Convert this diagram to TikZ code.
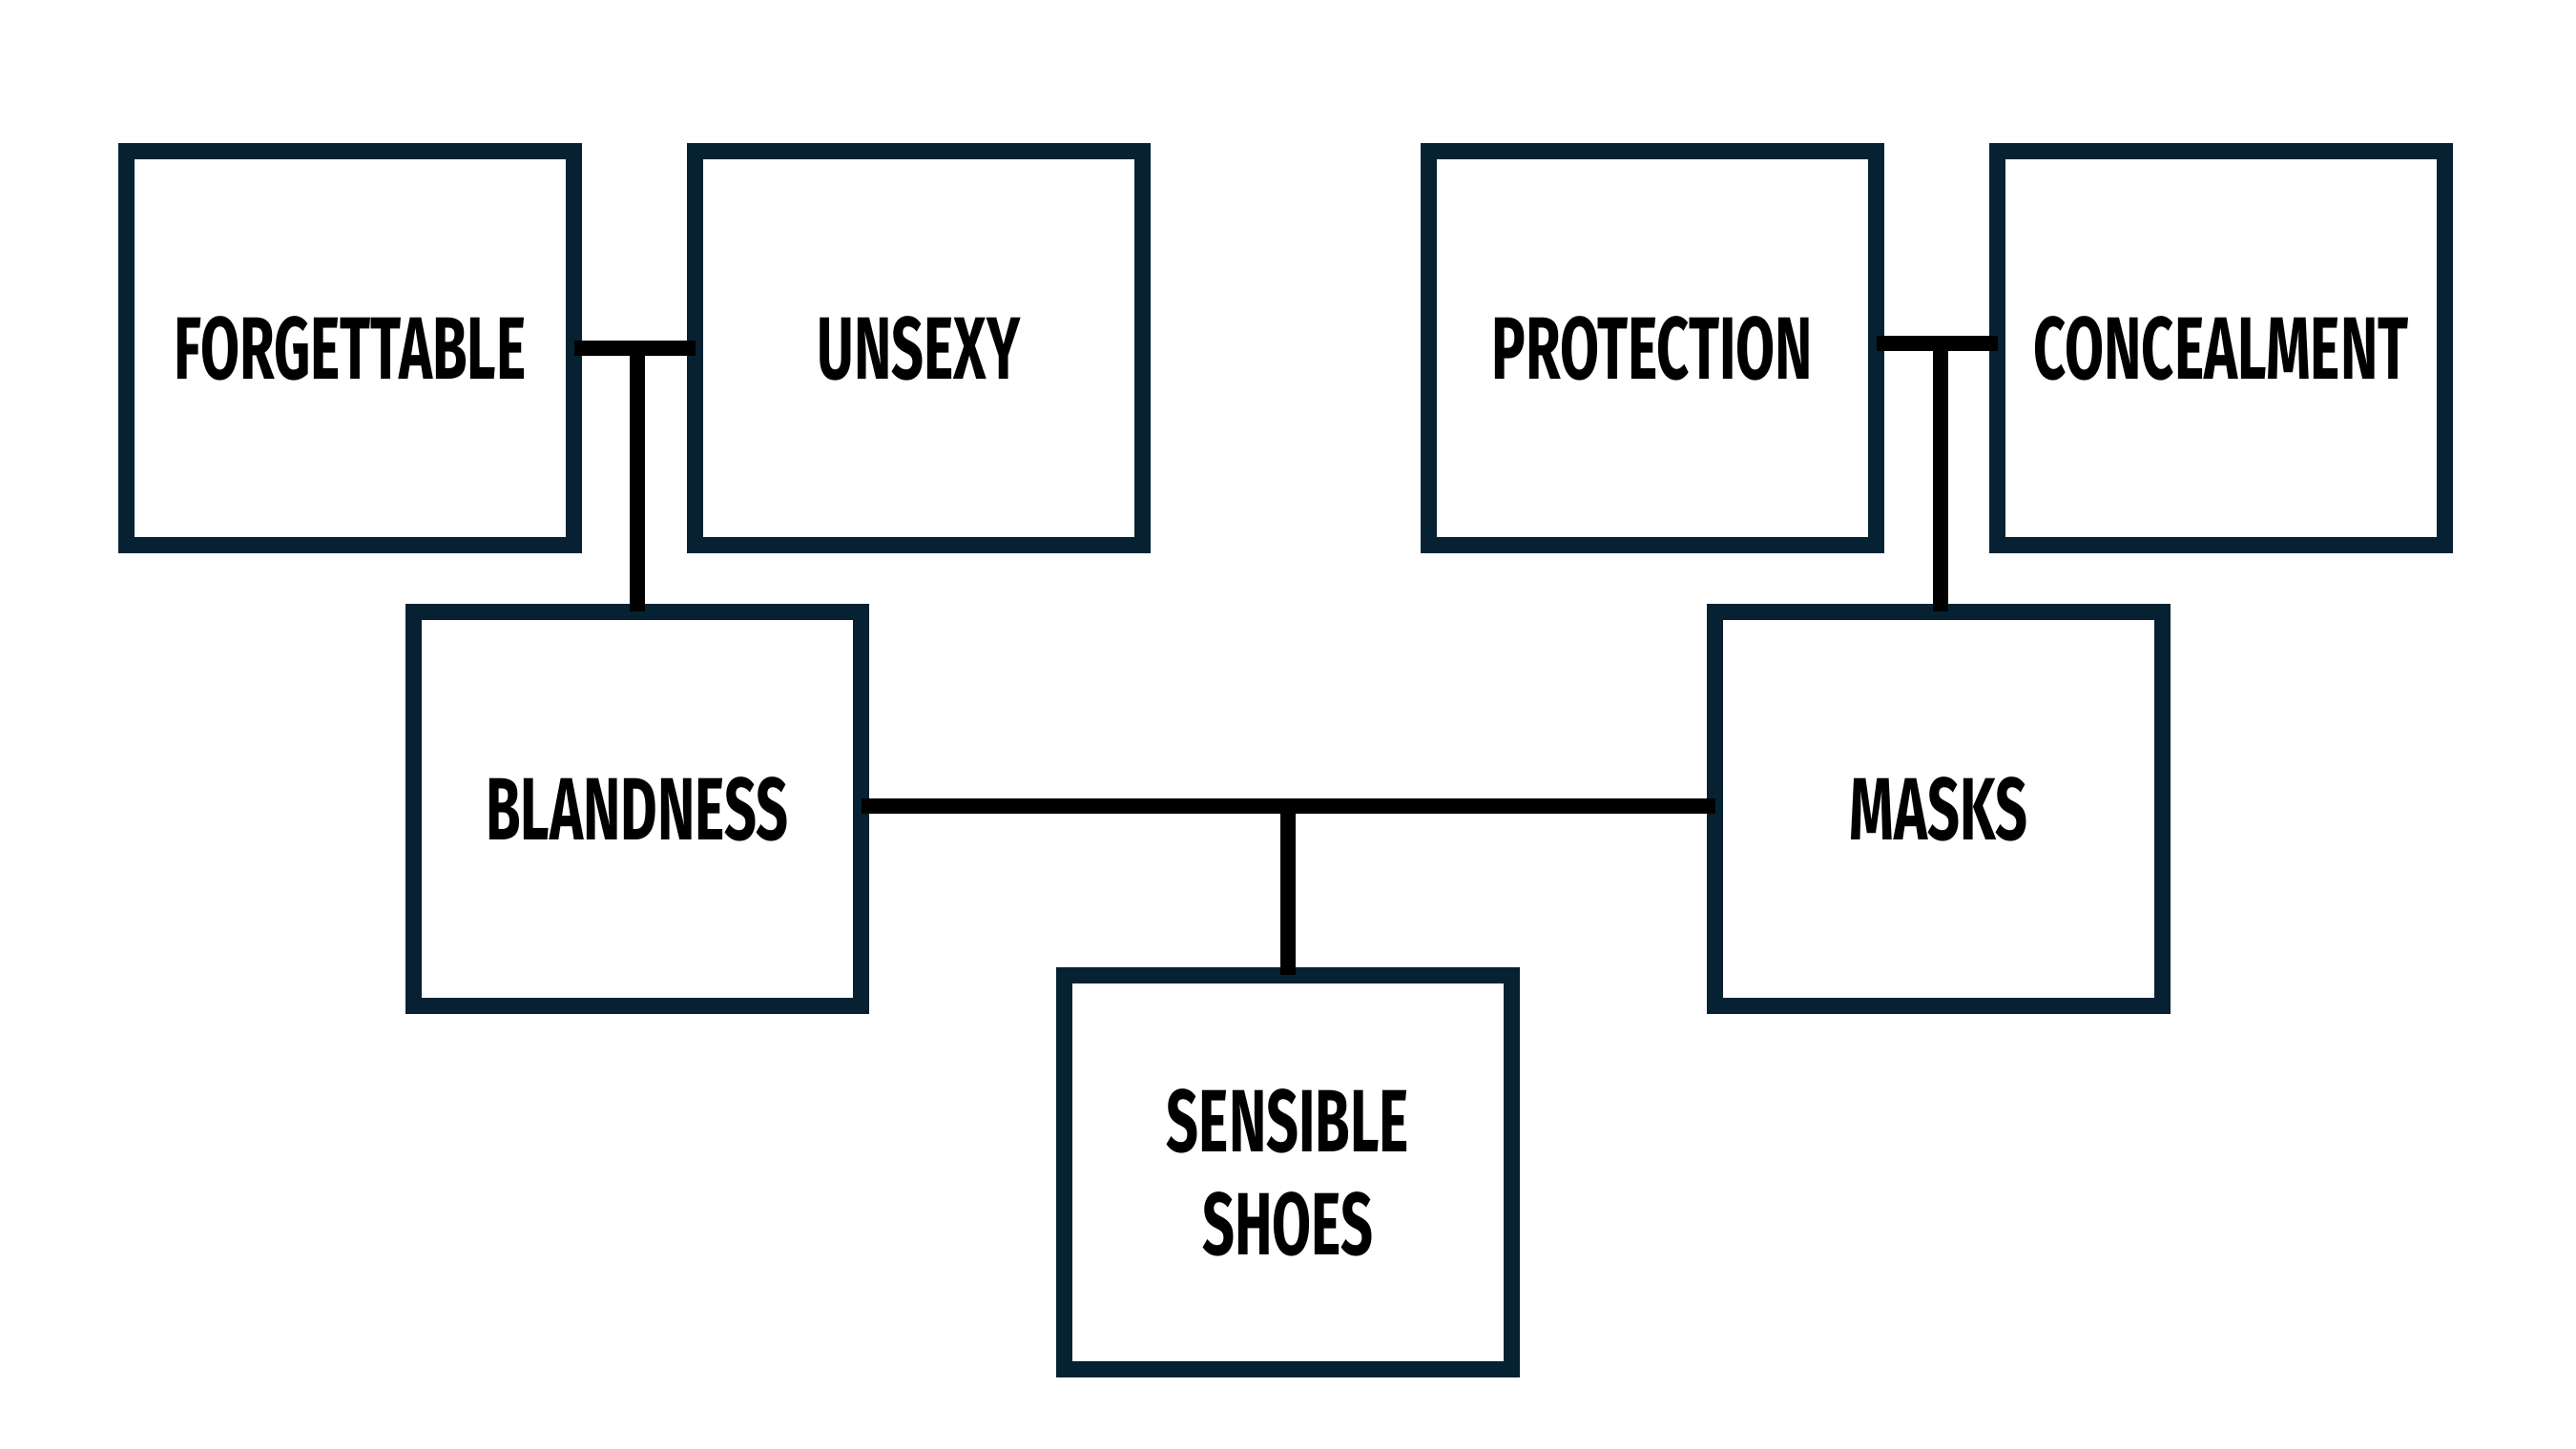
\documentclass[tikz,border=0pt]{standalone}
\usepackage{fontspec}
\usepackage{tikz}
\usetikzlibrary{positioning}
\usepackage{xcolor}
\newfontfamily\labelfont{Fira Sans}[FakeStretch=0.64]
\definecolor{navy}{RGB}{6,34,50}

\begin{document}
\begin{tikzpicture}[box/.style={draw=navy,line width=0.17cm,minimum width=4.69cm,minimum height=4.13cm,outer sep=0pt,align=center,font=\labelfont\bfseries\fontsize{26.4}{30.7}\selectfont},
  link/.style={line width=0.16cm}]
\useasboundingbox [fill=white] (0,0) rectangle (27,15.19);
\node (forget) at (3.67,11.54) [box] {FORGETTABLE};
\node (unsexy) at (9.63,11.54) [box] {UNSEXY};
\node (protect) at (17.32,11.54) [box] {PROTECTION};
\node (conceal) at (23.28,11.54) [box] {CONCEALMENT};
\node (bland) at (6.68,6.71) [box] {BLANDNESS};
\node (masks) at (20.32,6.71) [box] {MASKS};
\node (shoes) at (13.50,2.90) [box] {SENSIBLE\\SHOES};
\coordinate (leftjoin) at ([yshift=0.03cm]bland.east);
\coordinate (rightjoin) at ([yshift=0.03cm]masks.west);
\coordinate (toplink) at ([yshift=0.05cm]protect.east);
\draw [link] (forget.east) -- (unsexy.west);
\draw [link] (bland.north) -- (bland.north |- forget.east);
\draw [link] (toplink) -- (toplink -| conceal.west);
\draw [link] ([xshift=0.02cm]masks.north) -- ([xshift=0.02cm]masks.north |- toplink);
\draw [link] (leftjoin) -- (rightjoin);
\draw [link] (shoes.north) -- (shoes.north |- leftjoin);
\end{tikzpicture}
\end{document}
